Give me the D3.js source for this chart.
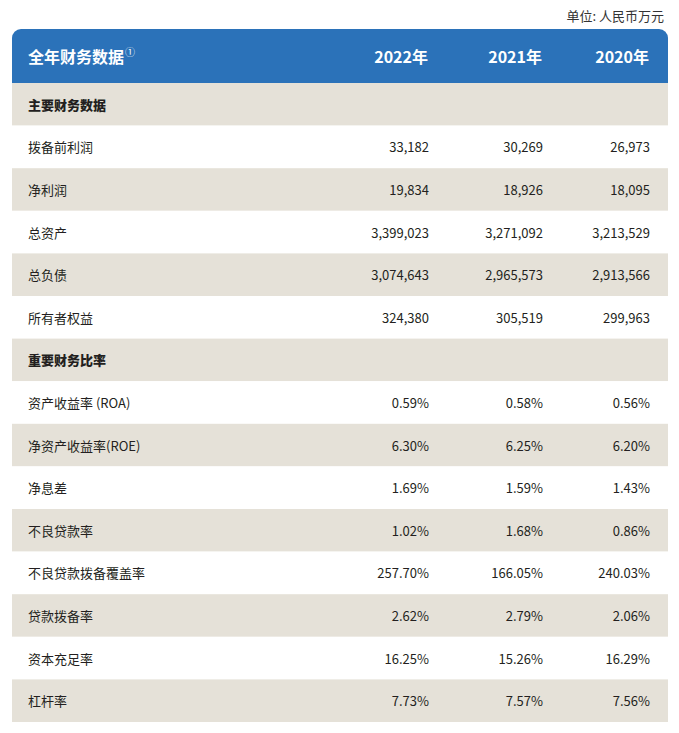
<!DOCTYPE html>
<html><head><meta charset="utf-8">
<script src="https://cdn.jsdelivr.net/npm/d3@7"></script>
<style>
html,body{margin:0;padding:0;background:#fff;}
svg{display:block;font-family:"Noto Sans CJK SC","Noto Sans",sans-serif;}
</style></head>
<body>
<svg id="chart" width="679" height="733"></svg>
<script>
const unitLabel = "单位: 人民币万元";
const headerTitle = "全年财务数据";
const years = ["2022年", "2021年", "2020年"];

const section1 = "主要财务数据";
const mainLabels = ["拨备前利润", "净利润", "总资产", "总负债", "所有者权益"];
const main2022 = [33182, 19834, 3399023, 3074643, 324380];
const main2021 = [30269, 18926, 3271092, 2965573, 305519];
const main2020 = [26973, 18095, 3213529, 2913566, 299963];

const section2 = "重要财务比率";
const ratioLabels = ["资产收益率 (ROA)", "净资产收益率(ROE)", "净息差", "不良贷款率", "不良贷款拨备覆盖率", "贷款拨备率", "资本充足率", "杠杆率"];
const ratio2022 = [0.59, 6.30, 1.69, 1.02, 257.70, 2.62, 16.25, 7.73];
const ratio2021 = [0.58, 6.25, 1.59, 1.68, 166.05, 2.79, 15.26, 7.57];
const ratio2020 = [0.56, 6.20, 1.43, 0.86, 240.03, 2.06, 16.29, 7.56];

const fmtNum = d3.format(",");
const fmtPct = v => d3.format(".2f")(v) + "%";

const rows = [];
rows.push({type: "section", label: section1});
mainLabels.forEach((l, i) => rows.push({type: "row", label: l, vals: [main2022[i], main2021[i], main2020[i]].map(fmtNum)}));
rows.push({type: "section", label: section2});
ratioLabels.forEach((l, i) => rows.push({type: "row", label: l, vals: [ratio2022[i], ratio2021[i], ratio2020[i]].map(fmtPct)}));

const svg = d3.select("#chart");
const left = 12, right = 668, headTop = 29, headBottom = 83, bottom = 722;
const labelX = 28;

const y = d3.scaleBand().domain(d3.range(rows.length)).range([headBottom, bottom]).padding(0);
const x = d3.scaleOrdinal().domain(years).range([429, 543, 650]);

// unit label
svg.append("text").attr("x", 664).attr("y", 15).attr("text-anchor", "end")
  .attr("dominant-baseline", "central").attr("font-size", 13).attr("fill", "#333").text(unitLabel);

// header with rounded top corners
const r = 9;
const p = d3.path();
p.moveTo(left, headBottom);
p.lineTo(left, headTop + r);
p.arcTo(left, headTop, left + r, headTop, r);
p.lineTo(right - r, headTop);
p.arcTo(right, headTop, right, headTop + r, r);
p.lineTo(right, headBottom);
p.closePath();
svg.append("path").attr("d", p.toString()).attr("fill", "#2b72b9");

const headY = 55.5;
const ht = svg.append("text").attr("x", labelX).attr("y", headY).attr("dominant-baseline", "central")
  .attr("font-size", 16).attr("font-weight", 700).attr("fill", "#fff");
ht.append("tspan").text(headerTitle);
ht.append("tspan").attr("font-size", 10).attr("font-weight", 400).attr("dy", -5).attr("dx", 1).text("①");

svg.selectAll("text.year").data(years).join("text").attr("class", "year")
  .attr("x", d => x(d) - 1).attr("y", headY).attr("text-anchor", "end").attr("dominant-baseline", "central")
  .attr("font-size", 16).attr("font-weight", 700).attr("fill", "#fff").text(d => d);

// rows
const g = svg.selectAll("g.row").data(rows).join("g").attr("class", "row")
  .attr("transform", (d, i) => `translate(0,${y(i)})`);

g.append("rect").attr("x", left).attr("width", right - left).attr("height", y.bandwidth())
  .attr("fill", (d, i) => i % 2 === 0 ? "#e5e1d8" : "#ffffff");

g.append("text").attr("x", labelX).attr("y", y.bandwidth() / 2).attr("dominant-baseline", "central")
  .attr("font-size", 13).attr("font-weight", d => d.type === "section" ? 900 : 400)
  .attr("fill", "#231f20").text(d => d.label);

g.filter(d => d.type === "row").each(function(d) {
  d3.select(this).selectAll("text.val").data(d.vals).join("text").attr("class", "val")
    .attr("x", (v, j) => x(years[j])).attr("y", y.bandwidth() / 2)
    .attr("text-anchor", "end").attr("dominant-baseline", "central")
    .attr("font-size", 13).attr("fill", "#231f20").text(v => v);
});
</script>
</body></html>
